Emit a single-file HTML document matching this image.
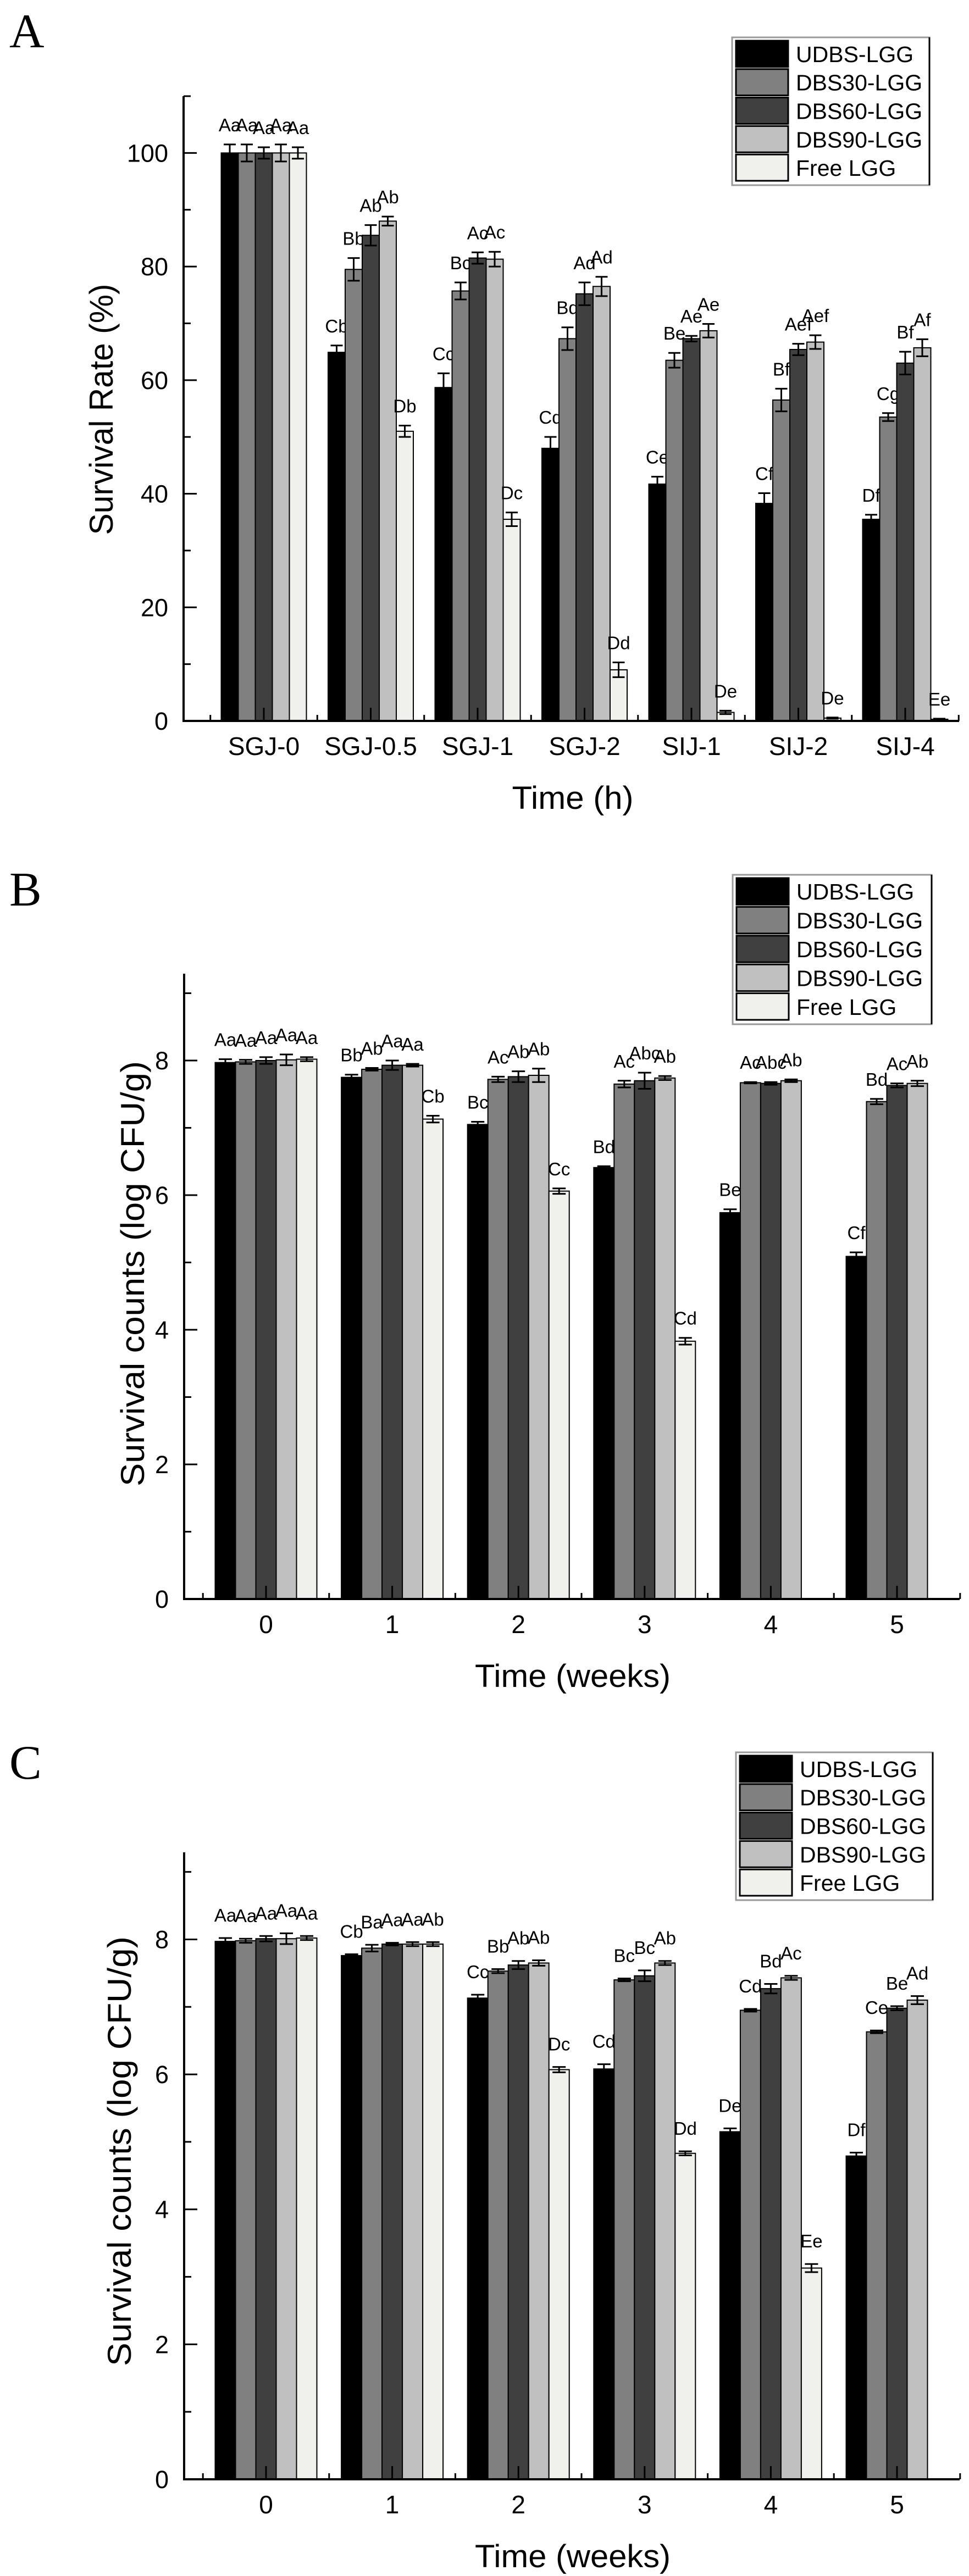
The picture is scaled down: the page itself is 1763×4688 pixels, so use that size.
<!DOCTYPE html>
<html><head><meta charset="utf-8">
<style>
html,body{margin:0;padding:0;background:#fff;}
svg{display:block;}
text{font-family:"Liberation Sans",Arial,sans-serif;fill:#000;}
.serif{font-family:"Liberation Serif","Times New Roman",serif;}
</style></head>
<body>
<svg id="fig" width="1763" height="4688" viewBox="0 0 1763 4688" xmlns="http://www.w3.org/2000/svg"></svg>
<script>
// ---------- Panel A data ----------
const catsA = ["SGJ-0","SGJ-0.5","SGJ-1","SGJ-2","SIJ-1","SIJ-2","SIJ-4"];
const aUDBS  = [100, 64.9, 58.7, 48.0, 41.7, 38.3, 35.5];
const aDBS30 = [100, 79.5, 75.7, 67.3, 63.5, 56.5, 53.5];
const aDBS60 = [100, 85.5, 81.5, 75.2, 67.3, 65.4, 63.0];
const aDBS90 = [100, 88.0, 81.3, 76.5, 68.7, 66.7, 65.7];
const aFree  = [100, 51.0, 35.5, 9.0, 1.5, 0.5, 0.3];
const aErrUDBS  = [1.5, 1.2, 2.5, 2.0, 1.3, 1.8, 0.8];
const aErrDBS30 = [1.5, 2.0, 1.5, 2.0, 1.3, 2.0, 0.7];
const aErrDBS60 = [1.0, 1.8, 1.0, 2.0, 0.5, 1.0, 2.0];
const aErrDBS90 = [1.5, 0.8, 1.3, 1.7, 1.2, 1.2, 1.5];
const aErrFree  = [1.0, 1.0, 1.2, 1.3, 0.3, 0.1, 0.1];
const aLabUDBS  = ["Aa","Cb","Cc","Cd","Ce","Cf","Df"];
const aLabDBS30 = ["Aa","Bb","Bc","Bd","Be","Bf","Cg"];
const aLabDBS60 = ["Aa","Ab","Ac","Ad","Ae","Aef","Bf"];
const aLabDBS90 = ["Aa","Ab","Ac","Ad","Ae","Aef","Af"];
const aLabFree  = ["Aa","Db","Dc","Dd","De","De","Ee"];
const ticksA = [0,20,40,60,80,100];

// ---------- Panel B data ----------
const catsB = ["0","1","2","3","4","5"];
const bUDBS  = [7.97, 7.75, 7.05, 6.41, 5.74, 5.09];
const bDBS30 = [7.98, 7.87, 7.72, 7.65, 7.67, 7.39];
const bDBS60 = [8.00, 7.93, 7.76, 7.70, 7.66, 7.63];
const bDBS90 = [8.01, 7.93, 7.78, 7.74, 7.70, 7.66];
const bFree  = [8.02, 7.13, 6.06, 3.83, 0, 0];
const bErrUDBS  = [0.05, 0.04, 0.04, 0.02, 0.05, 0.06];
const bErrDBS30 = [0.03, 0.02, 0.04, 0.05, 0.01, 0.04];
const bErrDBS60 = [0.05, 0.07, 0.08, 0.12, 0.02, 0.03];
const bErrDBS90 = [0.08, 0.02, 0.10, 0.03, 0.02, 0.04];
const bErrFree  = [0.03, 0.05, 0.04, 0.05, 0, 0];
const bLabUDBS  = ["Aa","Bb","Bc","Bd","Be","Cf"];
const bLabDBS30 = ["Aa","Ab","Ac","Ac","Ac","Bd"];
const bLabDBS60 = ["Aa","Aa","Ab","Abc","Abc","Ac"];
const bLabDBS90 = ["Aa","Aa","Ab","Ab","Ab","Ab"];
const bLabFree  = ["Aa","Cb","Cc","Cd","",""];

// ---------- Panel C data ----------
const catsC = ["0","1","2","3","4","5"];
const cUDBS  = [7.97, 7.76, 7.13, 6.08, 5.15, 4.79];
const cDBS30 = [7.98, 7.87, 7.53, 7.40, 6.95, 6.63];
const cDBS60 = [8.01, 7.93, 7.62, 7.46, 7.27, 6.98];
const cDBS90 = [8.01, 7.93, 7.65, 7.65, 7.43, 7.10];
const cFree  = [8.02, 7.93, 6.07, 4.83, 3.13, 0];
const cErrUDBS  = [0.05, 0.02, 0.05, 0.07, 0.05, 0.05];
const cErrDBS30 = [0.03, 0.05, 0.03, 0.02, 0.02, 0.02];
const cErrDBS60 = [0.04, 0.02, 0.06, 0.08, 0.07, 0.03];
const cErrDBS90 = [0.08, 0.03, 0.04, 0.03, 0.03, 0.06];
const cErrFree  = [0.03, 0.03, 0.04, 0.03, 0.06, 0];
const cLabUDBS  = ["Aa","Cb","Cc","Cd","De","Df"];
const cLabDBS30 = ["Aa","Ba","Bb","Bc","Cd","Ce"];
const cLabDBS60 = ["Aa","Aa","Ab","Bc","Bd","Be"];
const cLabDBS90 = ["Aa","Aa","Ab","Ab","Ac","Ad"];
const cLabFree  = ["Aa","Ab","Dc","Dd","Ee",""];
const ticksBC = [0,2,4,6,8];

const seriesNames = ["UDBS-LGG","DBS30-LGG","DBS60-LGG","DBS90-LGG","Free LGG"];
const fills = ["#000000","#808080","#404040","#c0c0c0","#f0f0ec"];

const NS = "http://www.w3.org/2000/svg";
const svg = document.getElementById("fig");
function mk(tag, attrs, parent, txt){
  const e = document.createElementNS(NS, tag);
  for (const k in attrs) e.setAttribute(k, attrs[k]);
  if (txt !== undefined) e.textContent = txt;
  (parent || svg).appendChild(e);
  return e;
}

function drawPanel(cfg){
  const g = mk("g", {});
  
  
  const y = v => cfg.y0 - (v - 0) / cfg.ymax * (cfg.y0 - cfg.yTop);
  const xc = i => cfg.x0c + i * cfg.step;

  const pl = mk("text", {x:17, y:cfg.letterY, "font-size":88, class:"serif"}, g, cfg.letter);
  
  

  const vals = cfg.vals, errs = cfg.errs, labs = cfg.labs;
  for (let s = 0; s < 5; s++){
    for (let i = 0; i < cfg.cats.length; i++){
      const v = vals[s][i];
      if (!v) continue;
      const bx = xc(i) - 2.5*cfg.bw + s*cfg.bw;
      const top = y(v);
      const r = mk("rect", {x:bx, y:top, width:cfg.bw, height:cfg.y0 - top, fill:fills[s], stroke:"#000", "stroke-width":2}, g);
      
      
      const cx = bx + cfg.bw/2;
      const eTop = y(v + errs[s][i]), eBot = y(v - errs[s][i]);
      const ew = mk("path", {d:`M${cx},${eTop}V${eBot}M${cx-cfg.cap},${eTop}H${cx+cfg.cap}M${cx-cfg.cap},${eBot}H${cx+cfg.cap}`, stroke:"#000", "stroke-width":3, fill:"none"}, g);
      
      
      if (labs[s][i]){
        const t = mk("text", {x:cx, y:eTop - cfg.labGap, "font-size":33, "text-anchor":"middle"}, g, labs[s][i]);
        
        
      }
    }
  }

  const ax = mk("path", {d:`M${cfg.x0},${cfg.yTop}V${cfg.y0}H${cfg.xEnd}`, stroke:"#000", "stroke-width":4, fill:"none"}, g);
  
  
  const minorStep = cfg.ticks[1] - cfg.ticks[0];
  for (let v = 0; v <= cfg.ymax + 1e-9; v += minorStep/2){
    const major = cfg.ticks.some(t => Math.abs(t - v) < 1e-9);
    mk("line", {x1:cfg.x0, x2:cfg.x0 + (major?24:13), y1:y(v), y2:y(v), stroke:"#000", "stroke-width":3}, g);
  }
  cfg.ticks.forEach(t => {
    const tl = mk("text", {x:cfg.x0 - 28, y:y(t) + 16, "font-size":45, "text-anchor":"end"}, g, String(t));
    
    
  });
  for (let k = -1; k <= cfg.cats.length * 2; k++){
    const i = k / 2;
    const xx = xc(i);
    if (xx <= cfg.x0 + 2 || xx > cfg.xEnd + 2) continue;
    const major = (k % 2 === 0);
    mk("line", {x1:xx, x2:xx, y1:cfg.y0, y2:cfg.y0 - (major?24:11), stroke:"#000", "stroke-width":3}, g);
  }
  cfg.cats.forEach((c, i) => {
    const tl = mk("text", {x:xc(i), y:cfg.y0 + 62, "font-size":46, "text-anchor":"middle"}, g, c);
    
    
  });
  const xt = mk("text", {x:1042, y:cfg.y0 + 160, "font-size":58, "text-anchor":"middle", textLength:cfg.xtLen, lengthAdjust:"spacingAndGlyphs"}, g, cfg.xTitle);
  
  
  const yt = mk("text", {x:0, y:0, "font-size":60, "text-anchor":"middle", textLength:cfg.ytLen, lengthAdjust:"spacingAndGlyphs", transform:`translate(${cfg.ytX},${cfg.ytY}) rotate(-90)`}, g, cfg.yTitle);
  
  

  const L = cfg.leg;
  const lg = mk("g", {}, g);
  
  
  mk("rect", {x:L.x, y:L.y, width:L.w, height:L.h, fill:"#fff", stroke:"#999", "stroke-width":3}, lg);
  mk("line", {x1:L.x+L.w, x2:L.x+L.w, y1:L.y, y2:L.y+L.h, stroke:"#000", "stroke-width":3}, lg);
  const rowH = (L.h - 10) / 5;
  for (let s = 0; s < 5; s++){
    const ry = L.y + 5 + s*rowH;
    const sw = mk("rect", {x:L.x+7, y:ry+1, width:95, height:rowH-4, fill:fills[s], stroke:"#000", "stroke-width":3}, lg);
    
    
    const lt = mk("text", {x:L.x+116, y:ry + rowH/2 + 14, "font-size":41}, lg, seriesNames[s]);
    
    
  }
}

drawPanel({
  id:"panel-a", letter:"A", letterY:86,
  cats:catsA, vals:[aUDBS,aDBS30,aDBS60,aDBS90,aFree],
  errs:[aErrUDBS,aErrDBS30,aErrDBS60,aErrDBS90,aErrFree],
  labs:[aLabUDBS,aLabDBS30,aLabDBS60,aLabDBS90,aLabFree],
  ticks:ticksA, ymax:110, y0:1312, yTop:175, x0:334, xEnd:1745,
  x0c:480, step:194.5, bw:31, cap:11, labGap:24,
  xTitle:"Time (h)", xtLen:221, yTitle:"Survival Rate (%)", ytLen:457, ytX:205, ytY:745,
  leg:{x:1332, y:68, w:359, h:269}
});
drawPanel({
  id:"panel-b", letter:"B", letterY:1648,
  cats:catsB, vals:[bUDBS,bDBS30,bDBS60,bDBS90,bFree],
  errs:[bErrUDBS,bErrDBS30,bErrDBS60,bErrDBS90,bErrFree],
  labs:[bLabUDBS,bLabDBS30,bLabDBS60,bLabDBS90,bLabFree],
  ticks:ticksBC, ymax:9.29, y0:2910, yTop:1772, x0:335, xEnd:1746,
  x0c:484, step:229.6, bw:37, cap:12, labGap:24,
  xTitle:"Time (weeks)", xtLen:356, yTitle:"Survival counts (log CFU/g)", ytLen:774, ytX:262, ytY:2318,
  leg:{x:1333, y:1592, w:362, h:272}
});
drawPanel({
  id:"panel-c", letter:"C", letterY:3237,
  cats:catsC, vals:[cUDBS,cDBS30,cDBS60,cDBS90,cFree],
  errs:[cErrUDBS,cErrDBS30,cErrDBS60,cErrDBS90,cErrFree],
  labs:[cLabUDBS,cLabDBS30,cLabDBS60,cLabDBS90,cLabFree],
  ticks:ticksBC, ymax:9.29, y0:4512, yTop:3371, x0:335, xEnd:1746,
  x0c:484, step:229.6, bw:37, cap:12, labGap:30,
  xTitle:"Time (weeks)", xtLen:356, yTitle:"Survival counts (log CFU/g)", ytLen:782, ytX:238, ytY:3915,
  leg:{x:1339, y:3189, w:358, h:269}
});
</script>
</body></html>
